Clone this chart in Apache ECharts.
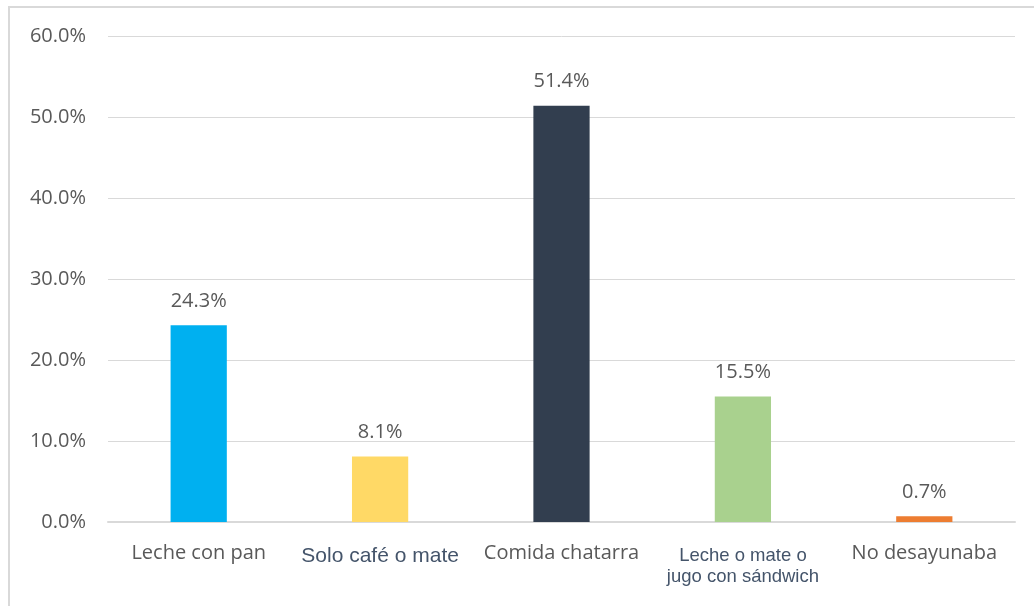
<!DOCTYPE html>
<html>
<head>
<meta charset="utf-8">
<script src="https://cdn.jsdelivr.net/npm/echarts@6/dist/echarts.min.js"></script>
<style>
  body { margin: 0; background: #fff; }
  #chart { width: 1034px; height: 606px; }
  #frame {
    position: absolute; left: 8px; top: 6px; width: 1100px; height: 700px;
    border-left: 2px solid #d9d9d9; border-top: 2px solid #d9d9d9;
    pointer-events: none;
  }
</style>
</head>
<body>
<div id="chart"></div>
<div id="frame"></div>
<script>
// categorias del eje X
var categorias = ["Leche con pan", "Solo café o mate", "Comida chatarra", "Leche o mate o\njugo con sándwich", "No desayunaba"];
// estilo de etiqueta por categoria (a = gris, b = azul, c = azul chico)
var estiloEtiqueta = ["a", "b", "a", "c", "a"];
// porcentajes
var valores = [24.3, 8.1, 51.4, 15.5, 0.7];
// colores de cada barra
var colores = ["#00B0F0", "#FFD966", "#323E4F", "#A9D18E", "#ED7D31"];

var myChart = echarts.init(document.getElementById("chart"));

myChart.setOption({
  animation: false,
  grid: {
    top: 36,
    left: 108,
    right: 19,
    bottom: 84,
  },
  xAxis: {
    type: "category",
    data: categorias,
    axisLine: {
      lineStyle: { color: "#d9d9d9", width: 2 },
    },
    axisTick: { show: false },
    axisLabel: {
      interval: 0,
      margin: 19,
      formatter: function (value, idx) {
        var k = estiloEtiqueta[idx];
        return value.split("\n").map(function (s, j) {
          var nombre = k === "c" ? "c" + (j + 1) : k;
          return "{" + nombre + "|" + s + "}";
        }).join("\n");
      },
      rich: {
        a: { fontFamily: "Open Sans", fontSize: 20, color: "#595959", lineHeight: 24 },
        b: { fontFamily: "Liberation Sans", fontSize: 21, color: "#44546A", lineHeight: 30 },
        c1: { fontFamily: "Liberation Sans", fontSize: 18.5, color: "#44546A", lineHeight: 30 },
        c2: { fontFamily: "Liberation Sans", fontSize: 18.5, color: "#44546A", lineHeight: 12 },
      },
    },
  },
  yAxis: {
    type: "value",
    min: 0,
    max: 60,
    interval: 10,
    axisLabel: {
      margin: 22,
      fontFamily: "Open Sans",
      fontSize: 20,
      color: "#595959",
      formatter: function (v) {
        return v.toFixed(1) + "%";
      },
    },
    axisLine: { show: false },
    axisTick: { show: false },
    splitLine: {
      lineStyle: { color: "#d9d9d9", width: 1 },
    },
  },
  series: [
    {
      type: "bar",
      barWidth: "31%",
      data: valores.map(function (v, i) {
        return { value: v, itemStyle: { color: colores[i] } };
      }),
      label: {
        show: true,
        position: "top",
        distance: 14,
        fontFamily: "Open Sans",
        fontSize: 20,
        color: "#595959",
        formatter: function (p) {
          return p.value.toFixed(1) + "%";
        },
      },
    },
  ],
});
</script>
</body>
</html>
